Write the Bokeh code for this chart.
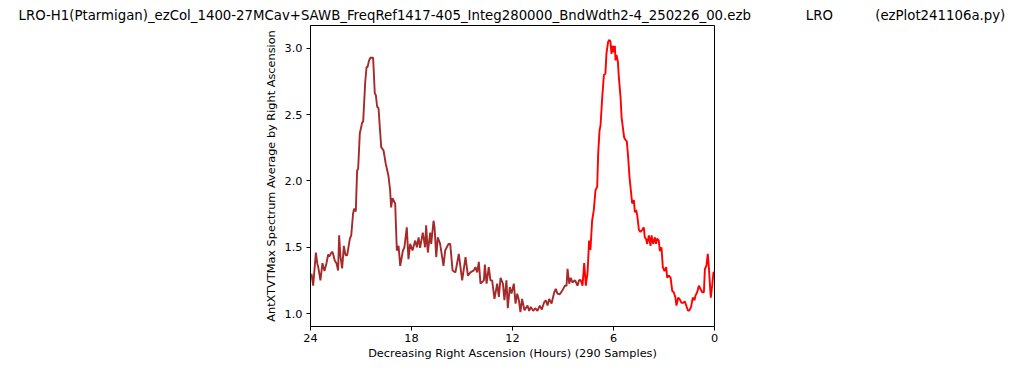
from bokeh.plotting import figure
from bokeh.models import Range1d, FixedTicker, Title, NumeralTickFormatter, ColumnDataSource
from bokeh.embed import file_html
from bokeh.resources import INLINE

# ---- data ----
hours_brown = [23.94, 23.84, 23.68, 23.60, 23.54, 23.41, 23.29, 23.17, 23.05, 22.95,
               22.89, 22.75, 22.69, 22.56, 22.46, 22.36, 22.30, 22.22, 22.12, 22.02,
               21.92, 21.82, 21.66, 21.58, 21.47, 21.41, 21.31, 21.23, 21.17, 21.07,
               20.93, 20.87, 20.75, 20.67, 20.61, 20.52, 20.44, 20.28, 20.18, 20.12,
               20.04, 19.96,
               19.80, 19.66, 19.53, 19.37, 19.27, 19.21, 19.13, 18.97, 18.87, 18.77,
               18.67, 18.51, 18.42, 18.28, 18.18, 18.08, 17.94, 17.78, 17.68, 17.58,
               17.49, 17.33, 17.19, 17.13, 17.03, 16.89, 16.83, 16.69, 16.63, 16.53,
               16.44, 16.30, 16.10, 16.00, 15.80, 15.70, 15.56,
               15.39, 15.19, 14.99, 14.79, 14.65, 14.50, 14.30, 14.20, 14.10, 14.00,
               13.90, 13.70, 13.64, 13.54, 13.41, 13.31, 13.21, 13.07, 12.91, 12.81,
               12.71, 12.57, 12.48, 12.36, 12.28, 12.16, 12.06, 11.92, 11.82, 11.72,
               11.62, 11.53, 11.43, 11.29,
               11.11, 11.01, 10.91, 10.77, 10.65, 10.52, 10.38, 10.26, 10.12, 10.02,
               9.92, 9.82, 9.68, 9.52, 9.43, 9.33, 9.19, 9.03, 8.89, 8.79,
               8.73, 8.63, 8.54, 8.44, 8.28, 8.14, 8.04]
values_brown = [1.30, 1.21, 1.46, 1.38, 1.35, 1.25, 1.38, 1.32, 1.38, 1.445,
                1.43, 1.46, 1.465, 1.40, 1.38, 1.325, 1.59, 1.43, 1.34, 1.51,
                1.44, 1.44, 1.565, 1.59, 1.755, 1.79, 1.77, 2.08, 2.09, 2.36,
                2.44, 2.45, 2.745, 2.86, 2.86, 2.91, 2.93, 2.93, 2.66, 2.65,
                2.56, 2.55,
                2.255, 2.23, 2.13, 2.04, 1.93, 1.80, 1.87, 1.83, 1.475, 1.51,
                1.36, 1.475, 1.50, 1.65, 1.41, 1.525, 1.475, 1.55, 1.50, 1.575,
                1.495, 1.61, 1.50, 1.665, 1.46, 1.61, 1.525, 1.70, 1.65, 1.425,
                1.575, 1.525, 1.36, 1.475, 1.525, 1.525, 1.325,
                1.31, 1.45, 1.25, 1.425, 1.285, 1.31, 1.325, 1.35, 1.31, 1.39,
                1.225, 1.25, 1.37, 1.225, 1.35, 1.25, 1.25, 1.11, 1.225, 1.125,
                1.27, 1.225, 1.10, 1.25, 1.04, 1.20, 1.15, 1.225, 1.075, 1.15,
                1.10, 1.01, 1.11, 1.025,
                1.06, 1.02, 1.05, 1.02, 1.04, 1.02, 1.06, 1.03, 1.085, 1.10,
                1.06, 1.11, 1.075, 1.16, 1.186, 1.15, 1.145, 1.175, 1.21, 1.21,
                1.337, 1.225, 1.27, 1.235, 1.25, 1.21, 1.255]

hours_red = [8.04, 7.94, 7.84, 7.74, 7.64, 7.54, 7.45, 7.37, 7.27, 7.17,
             7.07, 6.97, 6.91, 6.83, 6.77, 6.67, 6.57, 6.48, 6.42, 6.32,
             6.24, 6.18, 6.12, 6.04, 5.98, 5.92, 5.88, 5.82, 5.74, 5.68,
             5.58, 5.52, 5.45, 5.37, 5.29, 5.21, 5.13, 5.05, 4.97, 4.89,
             4.79, 4.73, 4.65, 4.59, 4.49, 4.40, 4.30, 4.20, 4.14, 4.06,
             4.00, 3.90, 3.80, 3.74, 3.64, 3.54, 3.47, 3.41, 3.31, 3.25,
             3.21, 3.15, 3.07, 2.97, 2.87, 2.81, 2.71, 2.61, 2.51, 2.42,
             2.32, 2.26, 2.16, 2.08, 1.96, 1.88, 1.76, 1.68, 1.58, 1.49,
             1.39, 1.29, 1.19, 1.13, 1.03, 0.93, 0.83, 0.73, 0.63, 0.57,
             0.48, 0.40, 0.34, 0.28, 0.22, 0.14, 0.06, 0.0]
values_red = [1.255, 1.25, 1.21, 1.38, 1.21, 1.31, 1.55, 1.48, 1.70, 1.78,
              1.93, 1.955, 2.205, 2.38, 2.42, 2.63, 2.80, 2.81, 2.96, 3.05,
              3.065, 3.05, 2.96, 3.02, 2.97, 3.02, 2.91, 2.95, 2.90, 2.78,
              2.63, 2.48, 2.41, 2.33, 2.31, 2.30, 2.18, 2.03, 1.93, 1.83,
              1.855, 1.765, 1.78, 1.74, 1.63, 1.615, 1.63, 1.65, 1.575, 1.56,
              1.525, 1.59, 1.51, 1.59, 1.525, 1.575, 1.525, 1.565, 1.55, 1.475,
              1.475, 1.50, 1.35, 1.32, 1.35, 1.27, 1.285, 1.27, 1.17, 1.16,
              1.12, 1.06, 1.12, 1.11, 1.08, 1.08, 1.09, 1.06, 1.023, 1.023,
              1.05, 1.12, 1.10, 1.135, 1.16, 1.21, 1.185, 1.16, 1.16, 1.337,
              1.36, 1.45, 1.36, 1.235, 1.12, 1.21, 1.31, 1.31]

x_ticks = [24, 18, 12, 6, 0]
y_ticks = [1.0, 1.5, 2.0, 2.5, 3.0]

title_file = "LRO-H1(Ptarmigan)_ezCol_1400-27MCav+SAWB_FreqRef1417-405_Integ280000_BndWdth2-4_250226_00.ezb"
title_site = "LRO"
title_prog = "(ezPlot241106a.py)"
x_label = "Decreasing Right Ascension (Hours) (290 Samples)"
y_label = "AntXTVTMax Spectrum Average by Right Ascension"

FONT = "DejaVu Sans"

p = figure(frame_width=404, frame_height=301, output_backend="svg", toolbar_location=None,
           x_range=Range1d(24, 0), y_range=Range1d(0.902, 3.173),
           min_border_left=310, min_border_right=300, min_border_top=25, min_border_bottom=36)
p.background_fill_color = "white"
p.border_fill_color = "white"
p.outline_line_color = "black"
p.outline_line_width = 1
p.grid.visible = False

src_b = ColumnDataSource(dict(x=hours_brown, y=values_brown))
src_r = ColumnDataSource(dict(x=hours_red, y=values_red))
p.line("x", "y", source=src_b, line_color="#A52A2A", line_width=1.9)
p.line("x", "y", source=src_r, line_color="#FF0000", line_width=1.9)

for ax in (p.xaxis[0], p.yaxis[0]):
    ax.major_tick_out = 4
    ax.major_tick_in = 0
    ax.minor_tick_out = 0
    ax.minor_tick_in = 0
    ax.axis_line_color = "black"
    ax.major_tick_line_color = "black"
    ax.major_label_text_font = FONT
    ax.major_label_text_font_size = "11.3px"
    ax.major_label_text_color = "black"
    ax.axis_label_text_font = FONT
    ax.axis_label_text_font_size = "11.3px"
    ax.axis_label_text_font_style = "normal"
    ax.axis_label_text_color = "black"

p.xaxis.ticker = FixedTicker(ticks=x_ticks)
p.xaxis.formatter = NumeralTickFormatter(format="0")
p.xaxis.axis_label = x_label
p.xaxis.major_label_standoff = 3
p.xaxis.axis_label_standoff = 2

p.yaxis.ticker = FixedTicker(ticks=y_ticks)
p.yaxis.formatter = NumeralTickFormatter(format="0.0")
p.yaxis.axis_label = y_label
p.yaxis.major_label_standoff = 4
p.yaxis.axis_label_standoff = 4

nb = "\u00a0"
title_text = title_file + nb * 13 + title_site + nb * 10 + title_prog
p.title = Title(text=title_text, align="left", offset=-292, standoff=6,
                text_font=FONT, text_font_size="13.3px", text_font_style="normal",
                text_color="black")

open("out.html", "w").write(file_html(p, INLINE))
